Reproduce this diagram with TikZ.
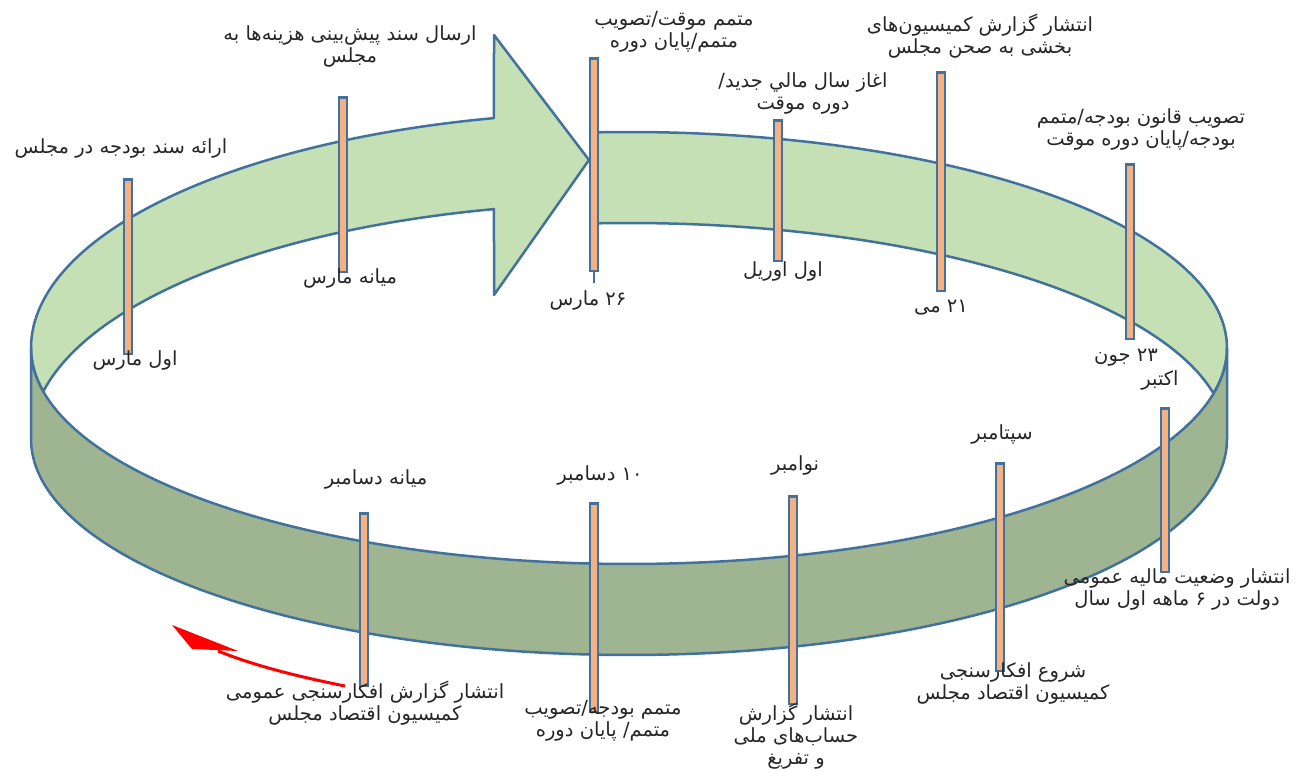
\documentclass[tikz,border=0pt]{standalone}
\usepackage{fontspec}
\newfontfamily\arabicfont[Script=Arabic]{DejaVu Sans}
\TeXXeTstate=1
\definecolor{bandlight}{HTML}{C5E0B4}
\definecolor{banddark}{HTML}{9FB491}
\definecolor{edgeblue}{HTML}{41719C}
\definecolor{barfill}{HTML}{F4B183}
\definecolor{txt}{HTML}{262626}
\newcommand\fatext[1]{\beginR #1\endR}
\tikzset{
  edge/.style={draw=edgeblue, line width=2.5pt, line join=round},
  bar/.style={rectangle, draw=edgeblue, fill=barfill, line width=2.5pt, minimum width=8pt, inner sep=0pt},
  lbl/.style={font=\arabicfont\fontsize{19.5}{22}\selectfont, align=center, inner sep=0pt, text=txt},
}
\begin{document}
\begin{tikzpicture}[x=1pt,y=-1pt]
\useasboundingbox (0,0) rectangle (1301,771);
% back wall, left part (arrow)
\path[edge, fill=bandlight]
  plot[domain=180:103.05, samples=80, variable=\t] ({629+598*cos(\t)},{348-236*sin(\t)})
  -- (494,35) -- (589,160) -- (494,295)
  -- plot[domain=103.05:168.39, samples=80, variable=\t] ({629+598*cos(\t)},{439-236*sin(\t)})
  -- plot[domain=191.61:180, samples=12, variable=\t] ({629+598*cos(\t)},{348-216*sin(\t)})
  -- cycle;
% back wall, right part
\path[edge, fill=bandlight]
  plot[domain=93.26:-12.16, samples=120, variable=\t] ({629+598*cos(\t)},{348-216*sin(\t)})
  -- plot[domain=12.16:93.26, samples=100, variable=\t] ({629+598*cos(\t)},{439-216*sin(\t)})
  -- cycle;
% front wall
\path[edge, fill=banddark]
  plot[domain=180:360, samples=180, variable=\t] ({629+598*cos(\t)},{348-216*sin(\t)})
  -- plot[domain=360:180, samples=180, variable=\t] ({629+598*cos(\t)},{439-216*sin(\t)})
  -- cycle;
% bars
\node[bar, minimum height=174.5] (b1) at (128,266.5) {};
\node[bar, minimum height=174.5] (b2) at (343,184.5) {};
\node[bar, minimum height=212.5] (b3) at (594,164.5) {};
\node[bar, minimum height=140.5] (b4) at (778,190.5) {};
\node[bar, minimum height=218.5] (b5) at (941,181.5) {};
\node[bar, minimum height=174.5] (b6) at (1130,251.5) {};
\node[bar, minimum height=163.5] (b7) at (1165,490) {};
\node[bar, minimum height=207.5] (b8) at (1000,567) {};
\node[bar, minimum height=207.5] (b9) at (793,600) {};
\node[bar, minimum height=208.5] (b10) at (594,607.5) {};
\node[bar, minimum height=172.5] (b11) at (364,599.5) {};
\draw[edgeblue, line width=2.5pt] (b3.south) -- ++(0,11);
% labels
\node[lbl] (t1a) at (121,148) {\fatext{ارائه سند بودجه در مجلس}};
\node[lbl] (t1b) at (135,360) {\fatext{اول مارس}};
\node[lbl] (t2a) at (350,46) {\fatext{ارسال سند پیش^^^^200cبینی هزینه^^^^200cها به}\\\fatext{مجلس}};
\node[lbl] (t2b) at (350,278) {\fatext{میانه مارس}};
\node[lbl] (t3a) at (674,32) {\fatext{متمم موقت/تصویب}\\\fatext{متمم/پایان دوره}};
\node[lbl] (t3b) at (588,300) {\fatext{۲۶ مارس}};
\node[lbl] (t4a) at (803,93) {\fatext{اغاز سال مالي جديد/}\\\fatext{دوره موقت}};
\node[lbl] (t4b) at (783,271) {\fatext{اول اوریل}};
\node[lbl] (t5a) at (980,36) {\fatext{انتشار گزارش کمیسیون^^^^200cهای}\\\fatext{بخشی به صحن مجلس}};
\node[lbl] (t5b) at (941,308) {\fatext{۲۱ می}};
\node[lbl] (t6a) at (1141,129) {\fatext{تصویب قانون بودجه/متمم}\\\fatext{بودجه/پایان دوره موقت}};
\node[lbl] (t6b) at (1126,358) {\fatext{۲۳ جون}};
\node[lbl] (t7a) at (1160,380) {\fatext{اکتبر}};
\node[lbl] (t7b) at (1177,589) {\fatext{انتشار وضعیت مالیه عمومی}\\\fatext{دولت در ۶ ماهه اول سال}};
\node[lbl] (t8a) at (1002,434) {\fatext{سپتامبر}};
\node[lbl] (t8b) at (1013,683) {\fatext{شروع افکارسنجی}\\\fatext{کمیسیون اقتصاد مجلس}};
\node[lbl] (t9a) at (795,465) {\fatext{نوامبر}};
\node[lbl] (t9b) at (796,736) {\fatext{انتشار گزارش}\\\fatext{حساب^^^^200cهای ملی}\\\fatext{و تفریغ}};
\node[lbl] (t10a) at (600,475) {\fatext{۱۰ دسامبر}};
\node[lbl] (t10b) at (603,721) {\fatext{متمم بودجه/تصویب}\\\fatext{متمم/ پایان دوره}};
\node[lbl] (t11a) at (376,479) {\fatext{میانه دسامبر}};
\node[lbl] (t11b) at (365,703) {\fatext{انتشار گزارش افکارسنجی عمومی}\\\fatext{کمیسیون اقتصاد مجلس}};
% red arrow
\coordinate (ra) at (345,686);
\coordinate (rb) at (218,651);
\coordinate (rt) at (172,625);
\coordinate (rl) at (192,649);
\coordinate (rr) at (238,651);
\draw[red, line width=3pt] (ra) .. controls (300,677) and (255,666) .. (rb);
\fill[red] (rt) -- (rl) -- (rr) -- cycle;
\end{tikzpicture}
\end{document}
